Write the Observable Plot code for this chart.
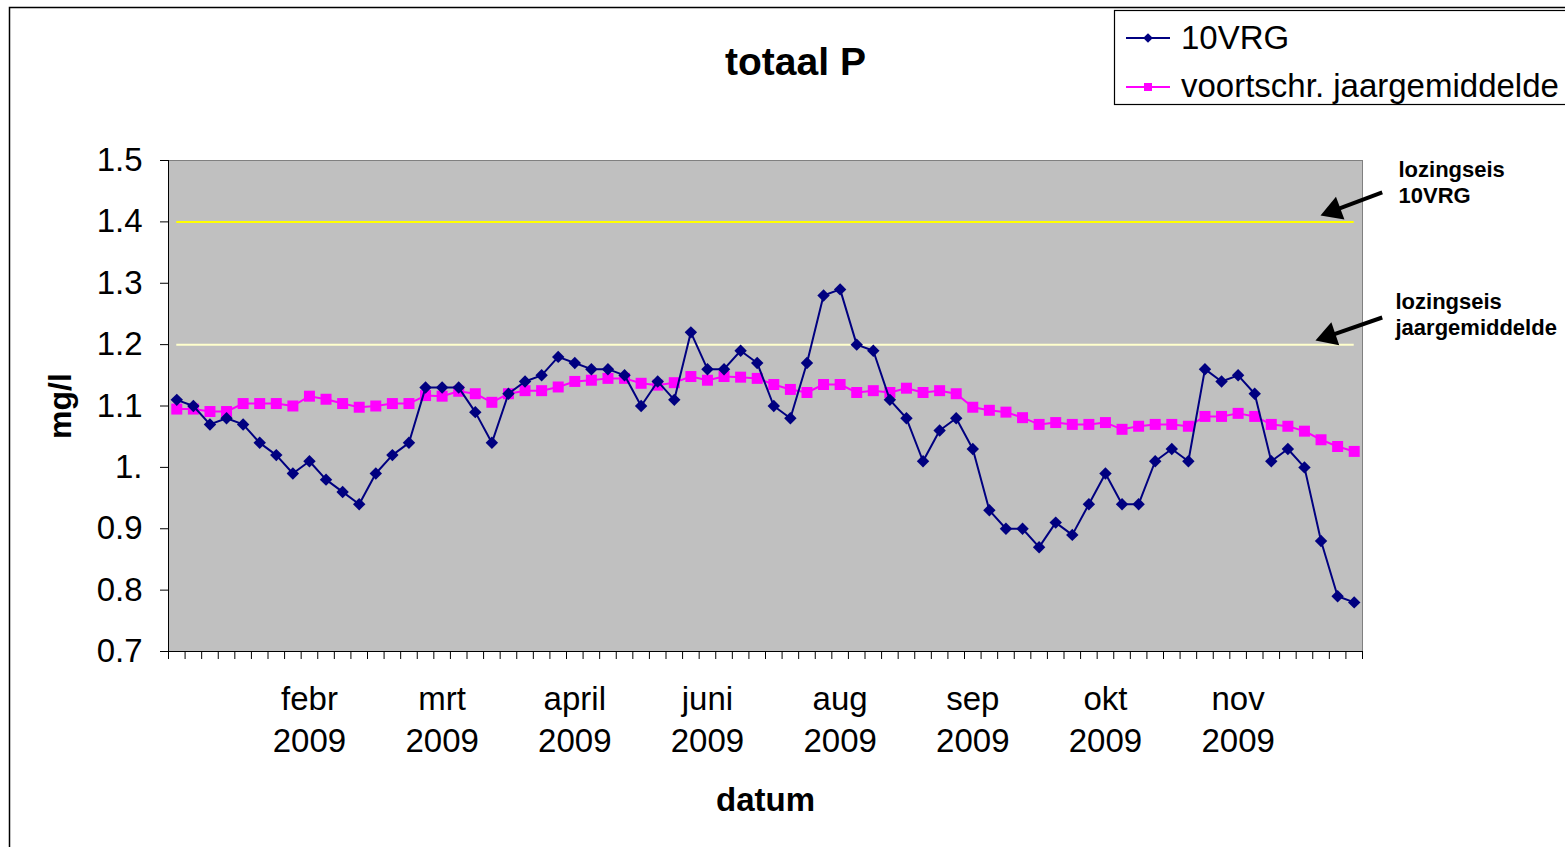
<!DOCTYPE html>
<html>
<head>
<meta charset="utf-8">
<script src="https://cdn.jsdelivr.net/npm/d3@7"></script>
<script src="https://cdn.jsdelivr.net/npm/@observablehq/plot@0.6"></script>
<style>
  html, body { margin: 0; padding: 0; background: #fff; overflow: hidden; }
  #wrap { position: relative; width: 1565px; height: 847px; overflow: hidden; }
  #wrap > svg { position: absolute; left: 0; top: 0; }
  #overlay { position: absolute; left: 0; top: 0; pointer-events: none; }
</style>
</head>
<body>
<div id="wrap"></div>
<script>
// ---- data ----
const titleText = "totaal P";
const seriesNames = ["10VRG", "voortschr. jaargemiddelde"];
const vrg10 = [1.11,1.10,1.07,1.08,1.07,1.04,1.02,0.99,1.01,0.98,
               0.96,0.94,0.99,1.02,1.04,1.13,1.13,1.13,1.09,1.04,
               1.12,1.14,1.15,1.18,1.17,1.16,1.16,1.15,1.10,1.14,
               1.11,1.22,1.16,1.16,1.19,1.17,1.10,1.08,1.17,1.28,
               1.29,1.20,1.19,1.11,1.08,1.01,1.06,1.08,1.03,0.93,
               0.90,0.90,0.87,0.91,0.89,0.94,0.99,0.94,0.94,1.01,
               1.03,1.01,1.16,1.14,1.15,1.12,1.01,1.03,1.00,0.88,
               0.79,0.78];
const runningAvg = [1.095,1.095,1.091,1.091,1.104,1.104,1.104,1.100,1.116,1.111,
                    1.104,1.098,1.100,1.104,1.104,1.117,1.116,1.124,1.120,1.106,
                    1.120,1.125,1.125,1.131,1.140,1.142,1.145,1.145,1.137,1.134,
                    1.138,1.148,1.142,1.148,1.147,1.145,1.135,1.127,1.122,1.135,
                    1.135,1.122,1.125,1.122,1.129,1.122,1.125,1.120,1.098,1.093,
                    1.090,1.081,1.070,1.073,1.070,1.070,1.073,1.062,1.067,1.070,
                    1.070,1.067,1.083,1.083,1.088,1.083,1.070,1.067,1.059,1.045,
                    1.034,1.026];
const monthLabels = ["febr","mrt","april","juni","aug","sep","okt","nov"];
const monthLabelWeeks = [8,16,24,32,40,48,56,64];
const yearLabel = "2009";
const yTicks = [0.7,0.8,0.9,1.0,1.1,1.2,1.3,1.4,1.5];
const yTickLabels = ["0.7","0.8","0.9","1.","1.1","1.2","1.3","1.4","1.5"];
const limitYear = 1.2;   // lozingseis jaargemiddelde
const limit10 = 1.4;     // lozingseis 10VRG
const annotations = ["lozingseis\n10VRG", "lozingseis\njaargemiddelde"];
const xTitle = "datum";
const yTitle = "mg/l";

// ---- build ----
const n = vrg10.length;
const rows10 = vrg10.map((v, i) => ({i, v}));
const rowsAvg = runningAvg.map((v, i) => ({i, v}));
const boundaries = d3.range(n + 1).map(k => k - 0.5);
const yLabelMap = new Map(yTicks.map((t, k) => [t, yTickLabels[k]]));
const xLabelRows = monthLabelWeeks.map((w, k) => ({i: w, label: monthLabels[k] + "\n" + yearLabel}));
const FONT = "'Liberation Sans', Arial, Helvetica, sans-serif";

const chart = Plot.plot({
  width: 1565,
  height: 847,
  marginLeft: 168,
  marginRight: 203,
  marginTop: 160,
  marginBottom: 196,
  style: {fontFamily: FONT, background: "#fff", color: "#000", overflow: "visible"},
  x: {type: "linear", domain: [-0.5, n - 0.5]},
  y: {domain: [0.7, 1.5]},
  marks: [
    Plot.frame({fill: "#c0c0c0", stroke: "#808080"}),
    Plot.ruleY([limit10], {x1: 0, x2: n - 1, stroke: "#ffff00", strokeWidth: 2}),
    Plot.ruleY([limitYear], {x1: 0, x2: n - 1, stroke: "#ffffcc", strokeWidth: 2}),
    Plot.ruleX([-0.5], {stroke: "#000"}),
    Plot.ruleY([0.7], {stroke: "#000"}),
    Plot.axisX({ticks: boundaries, tickSize: 8, tickFormat: () => "", stroke: "#000"}),
    Plot.text(xLabelRows, {x: "i", text: "label", frameAnchor: "bottom", lineAnchor: "top",
      dy: 29, fontSize: 33, lineHeight: 1.27, fill: "#000"}),
    Plot.axisY({ticks: yTicks, tickSize: 8, tickPadding: 18, fontSize: 33,
      tickFormat: d => yLabelMap.get(d), stroke: "#000", fill: "#000"}),
    Plot.line(rowsAvg, {x: "i", y: "v", stroke: "#ff00ff", strokeWidth: 2}),
    Plot.dot(rowsAvg, {x: "i", y: "v", symbol: "square", r: 6.2, fill: "#ff00ff", stroke: "none"}),
    Plot.line(rows10, {x: "i", y: "v", stroke: "#000080", strokeWidth: 2}),
    Plot.dot(rows10, {x: "i", y: "v", symbol: "diamond2", r: 5.6, fill: "#000080", stroke: "none"}),
    // titles
    Plot.text([titleText], {frameAnchor: "top", dx: 30, dy: -113, fontSize: 39, fontWeight: "bold", fill: "#000"}),
    Plot.text([xTitle], {frameAnchor: "bottom", dy: 159, fontSize: 33, fontWeight: "bold", fill: "#000"}),
    Plot.text([yTitle], {frameAnchor: "left", textAnchor: "middle", dx: -108, rotate: -90, fontSize: 32, fontWeight: "bold", fill: "#000"}),
    // annotations
    Plot.text([annotations[0]], {frameAnchor: "top-right", textAnchor: "start", lineAnchor: "top",
      dx: 36, dy: -2, fontSize: 22, fontWeight: "bold", lineHeight: 1.18, fill: "#000"}),
    Plot.text([annotations[1]], {frameAnchor: "top-right", textAnchor: "start", lineAnchor: "top",
      dx: 33, dy: 130, fontSize: 22, fontWeight: "bold", lineHeight: 1.18, fill: "#000"}),
    Plot.link([
      {x1: 72.69, y1: limit10 + 0.0479, x2: 69.76, y2: limit10 + 0.0184},
      {x1: 72.69, y1: limitYear + 0.0442, x2: 69.46, y2: limitYear + 0.0140}
    ], {x1: "x1", y1: "y1", x2: "x2", y2: "y2", stroke: "#000", strokeWidth: 4}),
    Plot.dot([
      {x: 69.76, y: limit10 + 0.0184, a: 249.6},
      {x: 69.46, y: limitYear + 0.0140, a: 251}
    ], {x: "x", y: "y", symbol: "triangle", r: 9, fill: "#000", stroke: "none", rotate: "a"})
  ]
});
const wrap = document.getElementById("wrap");
wrap.appendChild(chart);

// overlay: outer chart border + legend
const ov = d3.select(wrap).append("svg").attr("id", "overlay")
  .attr("width", 1565).attr("height", 847)
  .style("font-family", FONT);
ov.append("rect").attr("x", 9.5).attr("y", 7.5).attr("width", 1700).attr("height", 1000)
  .attr("fill", "none").attr("stroke", "#000").attr("stroke-width", 1.5);
const lg = ov.append("g");
lg.append("rect").attr("x", 1114.5).attr("y", 10.5).attr("width", 600).attr("height", 94)
  .attr("fill", "#fff").attr("stroke", "#000").attr("stroke-width", 1.2);
const legendRows = [
  {name: seriesNames[0], color: "#000080", sym: "diamond", cy: 38, base: 49},
  {name: seriesNames[1], color: "#ff00ff", sym: "square", cy: 87, base: 97}
];
legendRows.forEach(r => {
  lg.append("line").attr("x1", 1126).attr("x2", 1170).attr("y1", r.cy).attr("y2", r.cy)
    .attr("stroke", r.color).attr("stroke-width", 2);
  if (r.sym === "diamond") {
    lg.append("path").attr("d", d3.symbol(d3.symbolDiamond2, 60)()).attr("transform", `translate(1148,${r.cy})`).attr("fill", r.color);
  } else {
    lg.append("path").attr("d", d3.symbol(d3.symbolSquare, 64)()).attr("transform", `translate(1148,${r.cy})`).attr("fill", r.color);
  }
  lg.append("text").attr("x", 1181).attr("y", r.base).attr("font-size", 33)
    .attr("fill", "#000").text(r.name);
});
</script>
</body>
</html>
